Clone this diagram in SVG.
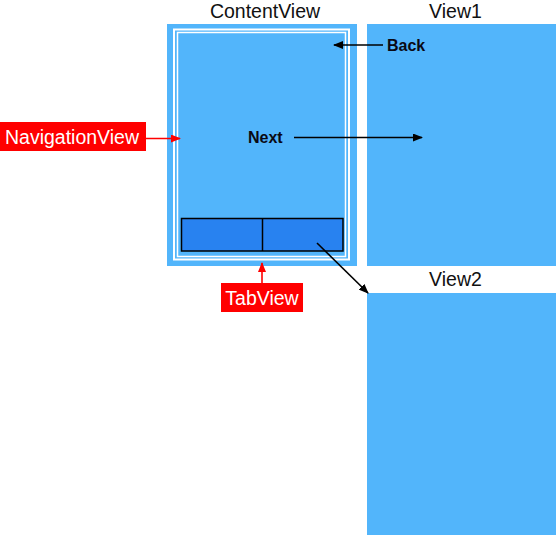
<svg xmlns="http://www.w3.org/2000/svg" width="556" height="535" viewBox="0 0 556 535">
<defs>
<style>
.view{fill:#52b5fb}
.title{font-family:"Liberation Sans",Arial,sans-serif;font-size:19.5px;fill:#111;text-anchor:middle}
.bold{font-family:"Liberation Sans",Arial,sans-serif;font-size:16px;font-weight:bold;fill:#0a0a14}
.tag{fill:#ff0000}
.tagtext{font-family:"Liberation Sans",Arial,sans-serif;font-size:19.5px;fill:#ffffff;text-anchor:middle}
.edge{stroke:#000;stroke-width:1.6;fill:none}
.redge{stroke:#ff0000;stroke-width:1.6;fill:none}
</style>
<marker id="ah" markerWidth="10" markerHeight="8" refX="9" refY="4" orient="auto" markerUnits="userSpaceOnUse">
<path d="M0,0 L10,4 L0,8 Z" fill="#000"/>
</marker>
<marker id="rah" markerWidth="10" markerHeight="8" refX="9" refY="4" orient="auto" markerUnits="userSpaceOnUse">
<path d="M0,0 L10,4 L0,8 Z" fill="#ff0000"/>
</marker>
</defs>
<rect width="556" height="535" fill="#ffffff"/>
<g id="view1">
<rect class="view" x="367" y="24" width="189" height="242"/>
<text class="title" x="455.5" y="18">View1</text>
</g>
<g id="view2">
<rect class="view" x="367" y="293" width="189" height="242"/>
<text class="title" x="455.5" y="286">View2</text>
</g>
<g id="contentview">
<rect class="view" x="167" y="24" width="190" height="242"/>
<rect x="174" y="29.5" width="175" height="230" fill="none" stroke="#ffffff" stroke-width="2"/>
<rect x="177.5" y="32.5" width="168" height="224" fill="none" stroke="#ffffff" stroke-width="1.5"/>
<text class="title" x="265" y="18">ContentView</text>
<text class="bold" x="248" y="143">Next</text>
</g>
<g id="tabbar">
<rect x="181.5" y="218.5" width="161.5" height="32.5" fill="#2882f0" stroke="#000" stroke-width="1.5"/>
<line x1="262.5" y1="218.5" x2="262.5" y2="251" stroke="#000" stroke-width="1.5"/>
</g>
<g id="back">
<text class="bold" x="387" y="51">Back</text>
</g>
<g id="navigationview">
<rect class="tag" x="0" y="122" width="146" height="29"/>
<text class="tagtext" x="72" y="143.5">NavigationView</text>
</g>
<g id="tabview">
<rect class="tag" x="221" y="283" width="82" height="29"/>
<text class="tagtext" x="262" y="304.5">TabView</text>
</g>
<g id="connectors">
<line class="edge" x1="294" y1="137.5" x2="422" y2="137.5" marker-end="url(#ah)"/>
<line class="edge" x1="383" y1="45" x2="334" y2="45" marker-end="url(#ah)"/>
<line class="edge" x1="317" y1="243" x2="368" y2="293" marker-end="url(#ah)"/>
<line class="redge" x1="146" y1="138.5" x2="180" y2="138.5" marker-end="url(#rah)"/>
<line class="redge" x1="262" y1="283" x2="262" y2="263" marker-end="url(#rah)"/>
</g>
</svg>
